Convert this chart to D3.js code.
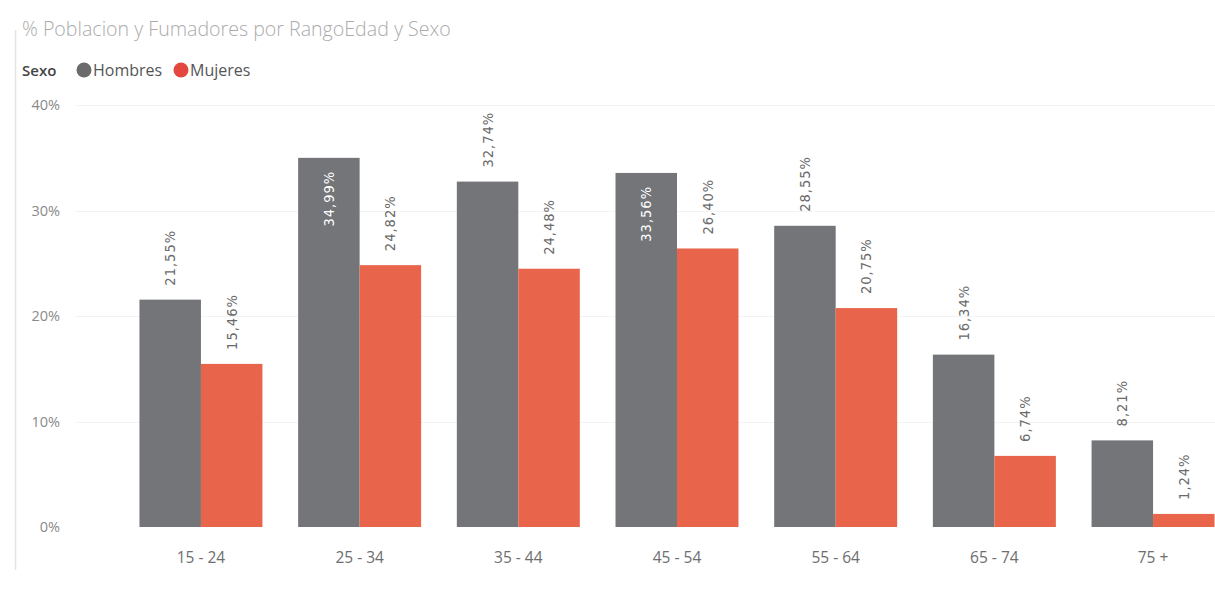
<!DOCTYPE html>
<html>
<head>
<meta charset="utf-8">
<script src="https://cdn.jsdelivr.net/npm/d3@7"></script>
<style>
  html, body { margin: 0; padding: 0; background: #fff; }
  svg { display: block; }
</style>
</head>
<body>
<svg id="chart" width="1215" height="594"></svg>
<script>
// Age ranges and smoker percentages by sex
const categories = ["15 - 24", "25 - 34", "35 - 44", "45 - 54", "55 - 64", "65 - 74", "75 +"];
const series = ["Hombres", "Mujeres"];
const hombres = [21.55, 34.99, 32.74, 33.56, 28.55, 16.34, 8.21];
const mujeres = [15.46, 24.82, 24.48, 26.40, 20.75, 6.74, 1.24];
const yTicks = [0, 10, 20, 30, 40];
const colors = { Hombres: "#737578", Mujeres: "#e8654c" };
const legendColors = { Hombres: "#6b6b6b", Mujeres: "#e4473d" };

const svg = d3.select("#chart");
const W = 1215, H = 594;
const plotTop = 105, plotBottom = 527;

const x0 = d3.scaleBand().domain(categories).range([122, 1232]).paddingInner(0.225).paddingOuter(0.11);
const x1 = d3.scaleBand().domain(series).range([0, x0.bandwidth()]).padding(0);
const y = d3.scaleLinear().domain([0, 40]).range([plotBottom, plotTop]);

const labelFont = "'DejaVu Sans Condensed', 'Liberation Sans Narrow', 'DejaVu Sans', sans-serif";
const uiFont = "'Open Sans', 'Noto Sans', 'Segoe UI', sans-serif";

// left frame line
svg.append("line")
  .attr("x1", 15.5).attr("x2", 15.5).attr("y1", 30).attr("y2", 570)
  .attr("stroke", "#e4e4e4").attr("stroke-width", 1.5);

// title
svg.append("text")
  .attr("x", 22).attr("y", 36)
  .attr("font-family", uiFont).attr("font-size", 19.6).attr("font-weight", 300)
  .attr("fill", "#ababab")
  .text("% Poblacion y Fumadores por RangoEdad y Sexo");

// legend
const legend = svg.append("g").attr("font-family", uiFont);
legend.append("text").attr("x", 22).attr("y", 76).attr("font-size", 15)
  .attr("fill", "#444").attr("font-weight", 600).text("Sexo");
const legendItems = [{ k: "Hombres", cx: 84, tx: 93 }, { k: "Mujeres", cx: 181, tx: 190 }];
legendItems.forEach(it => {
  legend.append("circle").attr("cx", it.cx).attr("cy", 70).attr("r", 7.5).attr("fill", legendColors[it.k]);
  legend.append("text").attr("x", it.tx).attr("y", 76).attr("font-size", 16)
    .attr("fill", "#555").text(it.k);
});

// gridlines
svg.append("g").selectAll("line").data(yTicks.filter(t => t > 0)).join("line")
  .attr("x1", 75).attr("x2", W)
  .attr("y1", d => Math.round(y(d)) + 0.5).attr("y2", d => Math.round(y(d)) + 0.5)
  .attr("stroke", "#f3f3f3").attr("stroke-width", 1);

// y axis
const yAxis = svg.append("g")
  .attr("transform", "translate(60,0)")
  .call(d3.axisLeft(y).tickValues(yTicks).tickFormat(d => d + "%").tickSize(0).tickPadding(0));
yAxis.select(".domain").remove();
yAxis.selectAll("text")
  .attr("font-family", uiFont).attr("font-size", 14.5).attr("fill", "#8a8a8a");

// x axis
const xAxis = svg.append("g")
  .attr("transform", `translate(0,${plotBottom})`)
  .call(d3.axisBottom(x0).tickSize(0).tickPadding(25));
xAxis.select(".domain").remove();
xAxis.selectAll("text")
  .attr("font-family", uiFont).attr("font-size", 15.5).attr("fill", "#6e6e6e");

// bars
const rows = categories.map((c, i) => ({ cat: c, vals: [
  { key: "Hombres", value: hombres[i] },
  { key: "Mujeres", value: mujeres[i] }
]}));

const groups = svg.append("g").selectAll("g").data(rows).join("g")
  .attr("transform", d => `translate(${x0(d.cat)},0)`);

groups.selectAll("rect").data(d => d.vals).join("rect")
  .attr("x", d => x1(d.key))
  .attr("y", d => y(d.value))
  .attr("width", x1.bandwidth())
  .attr("height", d => y(0) - y(d.value))
  .attr("fill", d => colors[d.key]);

// rotated value labels: above the bar, or inside its top when there is no room
const fmt = v => v.toFixed(2).replace(".", ",") + "%";
const gap = 14;
groups.selectAll("text.val").data(d => d.vals).join("text")
  .attr("class", "val")
  .attr("font-family", labelFont).attr("font-size", 14.5)
  .attr("letter-spacing", 1)
  .text(d => fmt(d.value))
  .each(function (d) {
    const len = this.getComputedTextLength();
    const top = y(d.value);
    const cx = x1(d.key) + x1.bandwidth() / 2;
    const inside = top - gap - len < plotTop;
    const sel = d3.select(this);
    if (inside) {
      sel.attr("text-anchor", "end").attr("fill", "#ffffff")
        .attr("transform", `translate(${cx + 5},${top + 13}) rotate(-90)`);
    } else {
      sel.attr("text-anchor", "start").attr("fill", "#6a6a6a")
        .attr("transform", `translate(${cx + 5},${top - gap}) rotate(-90)`);
    }
  });
</script>
</body>
</html>
